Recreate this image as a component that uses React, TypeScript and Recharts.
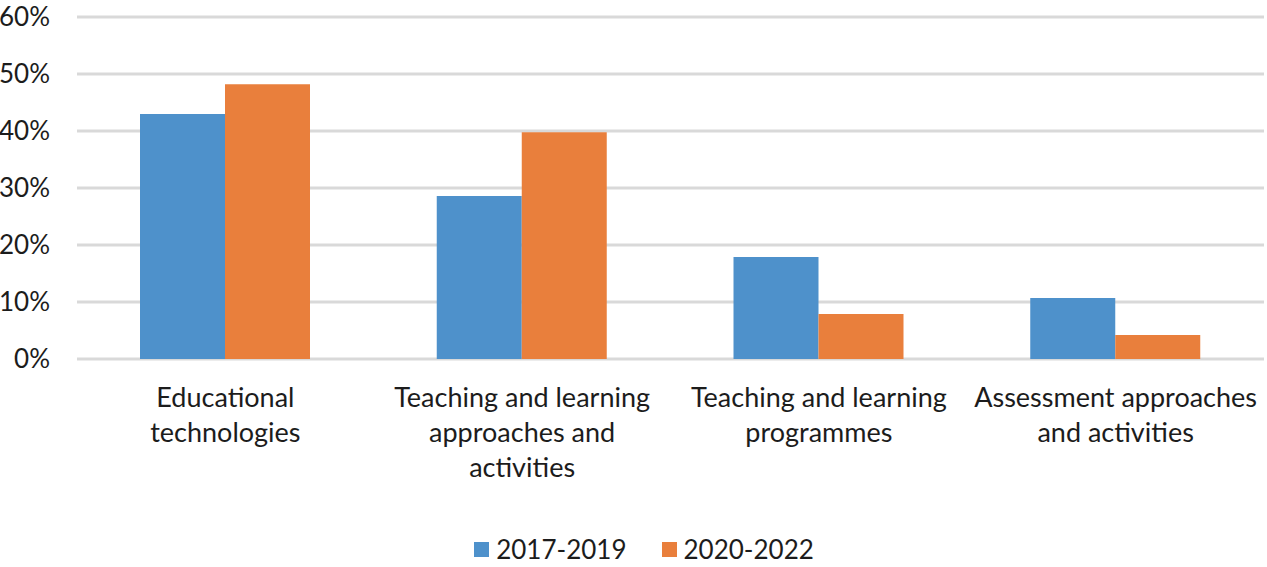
import { BarChart, Bar, XAxis, YAxis, CartesianGrid, Legend } from "recharts";

const categories = [
  "Educational technologies",
  "Teaching and learning approaches and activities",
  "Teaching and learning programmes",
  "Assessment approaches and activities",
];

// how each category label wraps in the picture
const labelLines = [
  ["Educational", "technologies"],
  ["Teaching and learning", "approaches and", "activities"],
  ["Teaching and learning", "programmes"],
  ["Assessment approaches", "and activities"],
];

const period1 = [43.0, 28.6, 17.9, 10.7];
const period2 = [48.2, 39.8, 7.9, 4.2];

const yTicks = [0, 10, 20, 30, 40, 50, 60];

const seriesNames = ["2017-2019", "2020-2022"];
const colors = ["#4E91CB", "#E97F3C"];

const data = categories.map((name, i) => ({
  name,
  p1: period1[i],
  p2: period2[i],
}));

const FONT = "Lato, 'Open Sans', sans-serif";
const TEXT = "#1c1c1c";

function CategoryTick(props: any) {
  const { x, y, payload } = props;
  const idx = categories.indexOf(payload.value);
  const lines = labelLines[idx] || [payload.value];
  return (
    <text x={x} y={y} textAnchor="middle" fill={TEXT} fontSize={27} fontFamily={FONT}>
      {lines.map((line, i) => (
        <tspan key={i} x={x} dy={i === 0 ? 48 : 35}>
          {line}
        </tspan>
      ))}
    </text>
  );
}

function LegendBox() {
  return (
    <div
      style={{
        height: 36,
        display: "flex",
        justifyContent: "center",
        alignItems: "center",
        paddingLeft: 24,
        fontFamily: FONT,
        fontSize: 26,
        color: TEXT,
      }}
    >
      {seriesNames.map((s, i) => (
        <div key={s} style={{ display: "flex", alignItems: "center", marginLeft: i ? 35 : 0 }}>
          <span style={{ width: 15, height: 15, background: colors[i], marginRight: 7 }} />
          <span>{s}</span>
        </div>
      ))}
    </div>
  );
}

export default function App() {
  return (
    <div style={{ position: "absolute", left: 0, top: 0, background: "#fff" }}>
      <BarChart
        width={1267}
        height={567}
        data={data}
        margin={{ top: 17, right: 3, left: 0, bottom: 0 }}
        barGap={0}
        barSize={85}
      >
        <CartesianGrid vertical={false} stroke="#D9D9D9" strokeWidth={3} />
        <XAxis
          dataKey="name"
          axisLine={false}
          tickLine={false}
          tickSize={0}
          tickMargin={0}
          height={172}
          interval={0}
          tick={<CategoryTick />}
        />
        <YAxis
          width={77}
          domain={[0, 60]}
          ticks={yTicks}
          axisLine={false}
          tickLine={false}
          tickSize={0}
          tickMargin={27}
          tickFormatter={(v) => `${v}%`}
          tick={{ fill: TEXT, fontSize: 26, fontFamily: FONT }}
        />
        <Legend verticalAlign="bottom" content={<LegendBox />} />
        <Bar dataKey="p1" name={seriesNames[0]} fill={colors[0]} isAnimationActive={false} />
        <Bar dataKey="p2" name={seriesNames[1]} fill={colors[1]} isAnimationActive={false} />
      </BarChart>
    </div>
  );
}
